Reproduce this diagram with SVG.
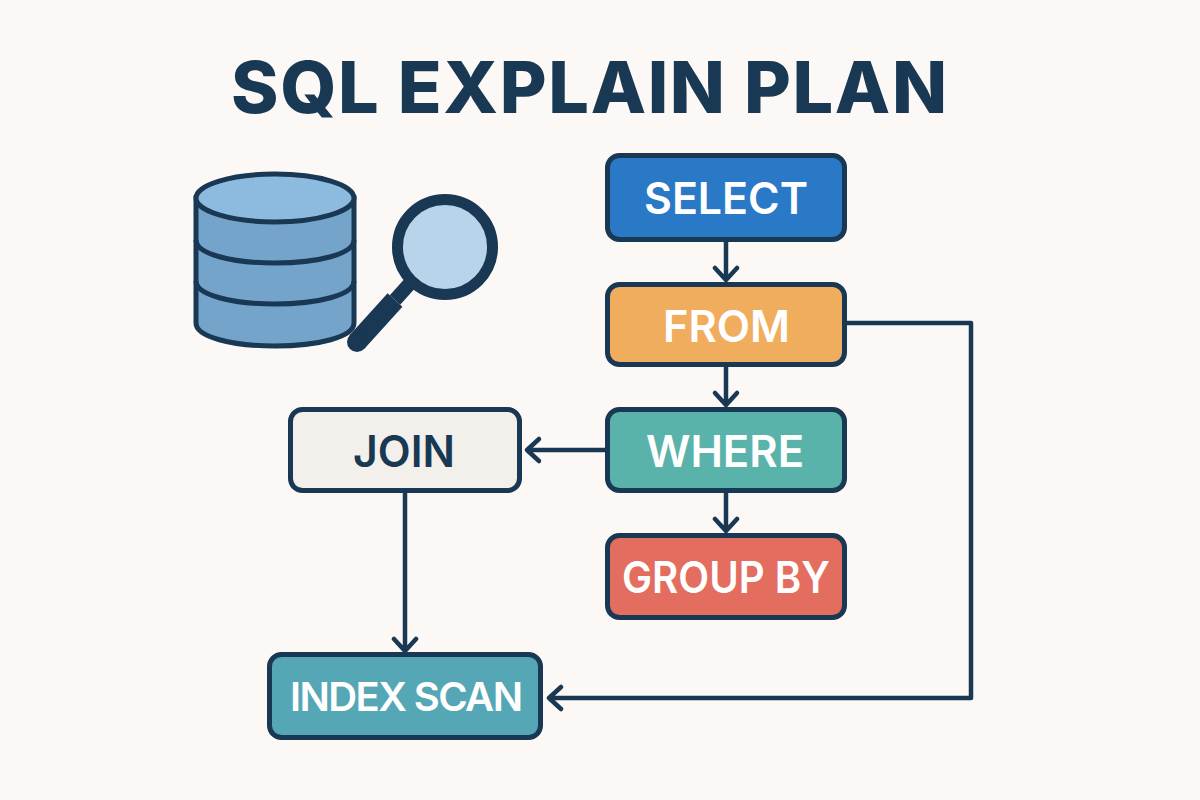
<svg xmlns="http://www.w3.org/2000/svg" width="1200" height="800" viewBox="0 0 1200 800">
<style>
.bx{stroke:#193853;stroke-width:5}
.t{font-family:Inter,"Liberation Sans",sans-serif;font-weight:600;font-size:44px;fill:#fff}
.c{fill:none;stroke:#193853;stroke-width:4.5;stroke-linecap:round;stroke-linejoin:round}
.i{stroke:#193853;stroke-width:5}
</style>
<rect width="1200" height="800" fill="#fcf8f5"/>
<text x="231" y="113" textLength="716" lengthAdjust="spacing" font-family="Inter,'Liberation Sans',sans-serif" font-weight="800" font-size="72" fill="#193853">SQL EXPLAIN PLAN</text>
<g id="database">
<path class="i" d="M196 198V323C196 337 232 346 275 346S354 337 354 323V198Z" fill="#74a4ca"/>
<path class="i" d="M196 240C196 254 232 263 275 263S354 254 354 240M196 281C196 295 232 304 275 304S354 295 354 281" fill="none"/>
<ellipse class="i" cx="275" cy="198" rx="79" ry="24" fill="#8dbbdf"/>
</g>
<g id="magnifier">
<line x1="395" y1="300" x2="413" y2="280" stroke="#193853" stroke-width="14"/>
<line x1="395" y1="300" x2="357" y2="342" stroke="#193853" stroke-width="20"/>
<circle cx="357" cy="342" r="10" fill="#193853"/>
<circle cx="445" cy="247" r="47.500" fill="#b8d4ea" stroke="#193853" stroke-width="11"/>
</g>
<g id="connectors">
<path class="c" d="M726 242V280M715 268L726 280L737 268"/>
<path class="c" d="M726 367V405M715 393L726 405L737 393"/>
<path class="c" d="M726 493V531M715 519L726 531L737 519"/>
<path class="c" d="M605 450H527M539 439L527 450L539 461"/>
<path class="c" d="M405 493V651M394 639L405 651L416 639"/>
<path class="c" d="M847 323H971V698H549M561 687L549 698L561 709"/>
</g>
<g id="select"><rect class="bx" x="607.500" y="155.500" width="237" height="84" rx="12" fill="#2a79c6"/><text class="t" x="644" y="214" textLength="164" lengthAdjust="spacingAndGlyphs">SELECT</text></g>
<g id="from"><rect class="bx" x="607.500" y="284.500" width="237" height="80" rx="12" fill="#f1ad5e"/><text class="t" x="663" y="342" textLength="127" lengthAdjust="spacingAndGlyphs">FROM</text></g>
<g id="where"><rect class="bx" x="607.500" y="409.500" width="237" height="81" rx="12" fill="#5ab3ab"/><text class="t" x="646" y="467" textLength="158" lengthAdjust="spacingAndGlyphs">WHERE</text></g>
<g id="group-by"><rect class="bx" x="607.500" y="535.500" width="237" height="82" rx="12" fill="#e36d5e"/><text class="t" x="622" y="593" textLength="208" lengthAdjust="spacingAndGlyphs">GROUP BY</text></g>
<g id="join"><rect class="bx" x="290.500" y="409.500" width="229" height="81" rx="12" fill="#f3f0eb"/><text class="t" x="353" y="467" textLength="102" lengthAdjust="spacingAndGlyphs" style="fill:#193853">JOIN</text></g>
<g id="index-scan"><rect class="bx" x="269.500" y="654.500" width="271" height="83" rx="12" fill="#55a7b5"/><text class="t" x="290" y="711" textLength="233" lengthAdjust="spacing" style="font-size:40px">INDEX SCAN</text></g>
</svg>
